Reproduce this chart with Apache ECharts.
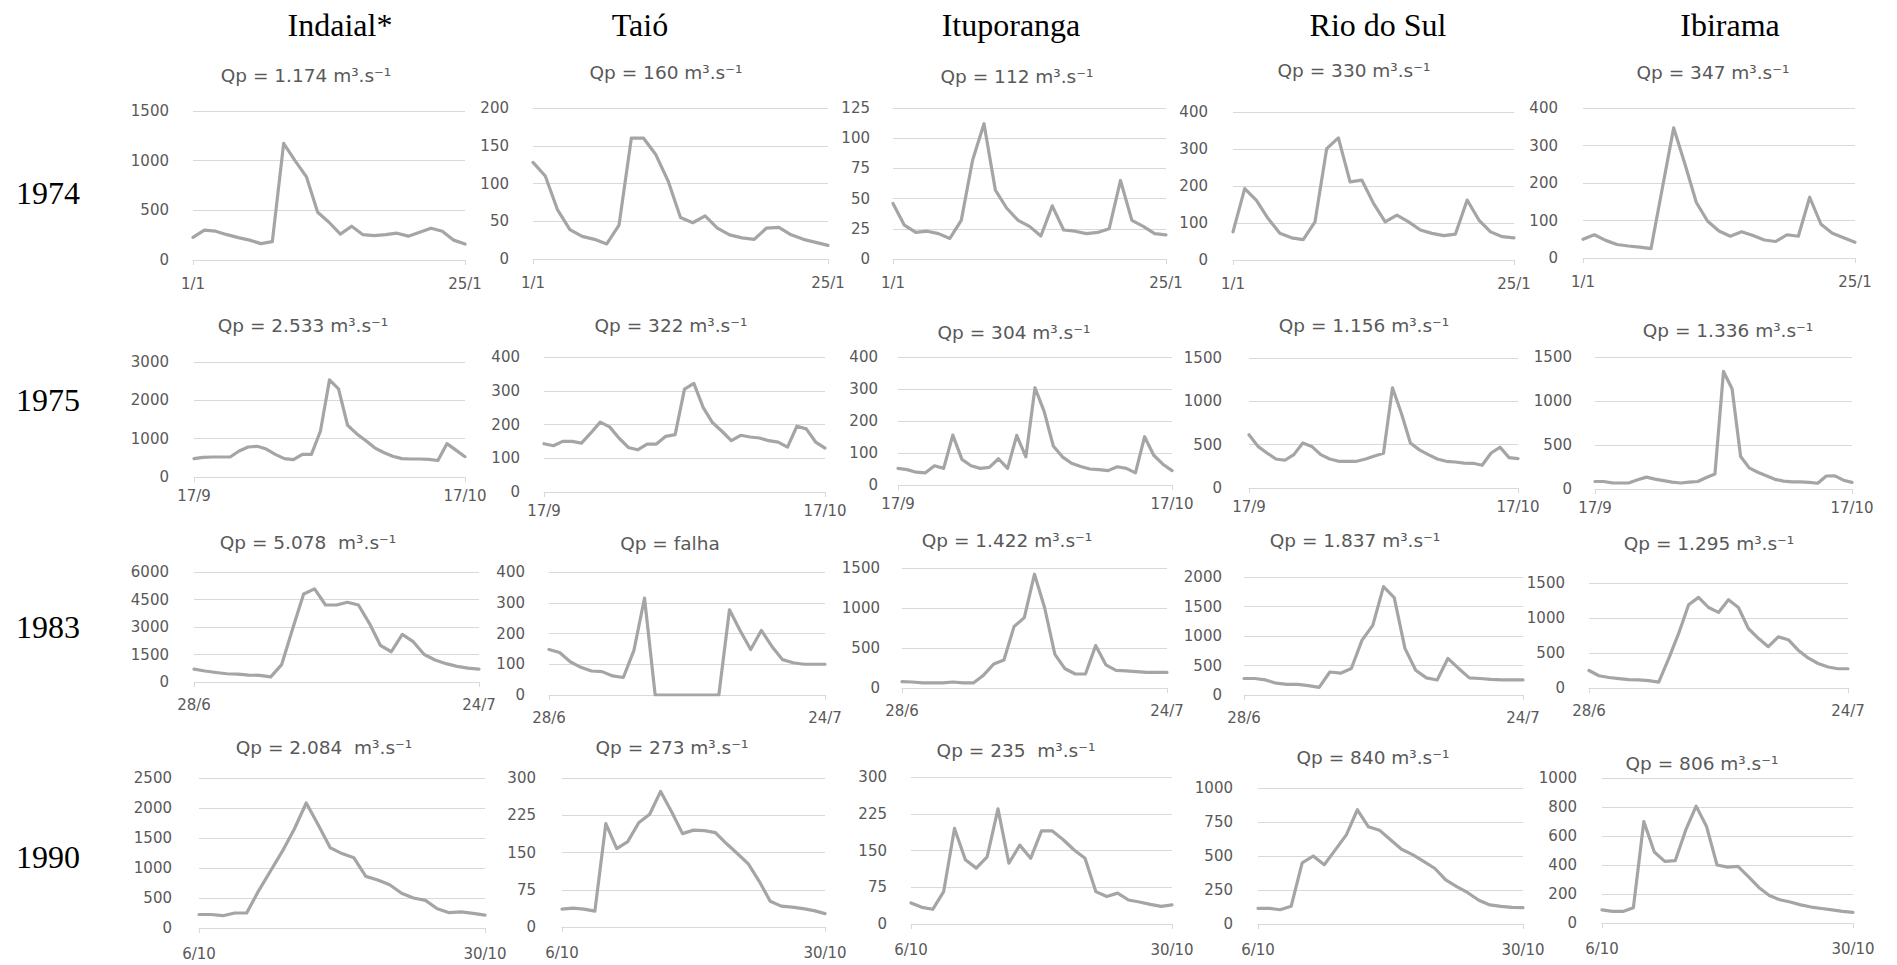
<!DOCTYPE html>
<html>
<head>
<meta charset="utf-8">
<title>Hidrogramas de cheia</title>
<script src="https://cdn.jsdelivr.net/npm/echarts@6/dist/echarts.min.js"></script>
<style>
  html, body { margin: 0; padding: 0; background: #fff; }
  #main { width: 1897px; height: 965px; }
</style>
</head>
<body>
<div id="main"></div>
<script>
// ---- data -------------------------------------------------------------
const stations = ['Indaial*', 'Taió', 'Ituporanga', 'Rio do Sul', 'Ibirama'];
const years = ['1974', '1975', '1983', '1990'];
const startLabels = ['1/1', '17/9', '28/6', '6/10'];
const endLabels = ['25/1', '17/10', '24/7', '30/10'];

// peak discharge captions, one list per year (station order)
const qp1974 = ['Qp = 1.174 m³.s⁻¹', 'Qp = 160 m³.s⁻¹', 'Qp = 112 m³.s⁻¹', 'Qp = 330 m³.s⁻¹', 'Qp = 347 m³.s⁻¹'];
const qp1975 = ['Qp = 2.533 m³.s⁻¹', 'Qp = 322 m³.s⁻¹', 'Qp = 304 m³.s⁻¹', 'Qp = 1.156 m³.s⁻¹', 'Qp = 1.336 m³.s⁻¹'];
const qp1983 = ['Qp = 5.078  m³.s⁻¹', 'Qp = falha', 'Qp = 1.422 m³.s⁻¹', 'Qp = 1.837 m³.s⁻¹', 'Qp = 1.295 m³.s⁻¹'];
const qp1990 = ['Qp = 2.084  m³.s⁻¹', 'Qp = 273 m³.s⁻¹', 'Qp = 235  m³.s⁻¹', 'Qp = 840 m³.s⁻¹', 'Qp = 806 m³.s⁻¹'];

// y-axis ranges (max, step), station order
const yMax1974 = [1500, 200, 125, 400, 400];
const yStep1974 = [500, 50, 25, 100, 100];
const yMax1975 = [3000, 400, 400, 1500, 1500];
const yStep1975 = [1000, 100, 100, 500, 500];
const yMax1983 = [6000, 400, 1500, 2000, 1500];
const yStep1983 = [1500, 100, 500, 500, 500];
const yMax1990 = [2500, 300, 300, 1000, 1000];
const yStep1990 = [500, 75, 75, 250, 200];

// daily discharge (m³/s)
const indaial1974 = [228, 300, 290, 255, 225, 200, 165, 185, 1174, 1000, 840, 480, 380, 260, 340, 255, 245, 255, 270, 240, 280, 320, 290, 200, 160];
const taio1974 = [128, 110, 65, 39, 30, 26, 20, 45, 160, 160, 138, 103, 55, 48, 57, 41, 32, 28, 26, 41, 42, 32, 26, 22, 18];
const ituporanga1974 = [46, 28, 22, 23, 21, 17, 32, 82, 112, 57, 42, 32, 27, 19, 44, 24, 23, 21, 22, 25, 65, 32, 27, 21, 20];
const rioDoSul1974 = [76, 193, 161, 112, 72, 60, 55, 103, 301, 330, 211, 216, 153, 103, 121, 103, 81, 72, 66, 70, 162, 108, 76, 63, 60];
const ibirama1974 = [50, 62, 47, 36, 32, 29, 25, 186, 347, 250, 148, 98, 72, 58, 70, 60, 48, 44, 62, 58, 162, 90, 66, 54, 42];

const indaial1975 = [478, 513, 522, 522, 522, 678, 783, 800, 730, 591, 478, 452, 591, 591, 1200, 2533, 2300, 1350, 1130, 950, 760, 640, 540, 480, 470, 470, 460, 430, 870, 700, 530];
const taio1975 = [143, 137, 150, 150, 145, 175, 207, 193, 160, 132, 125, 142, 142, 165, 170, 305, 322, 250, 205, 180, 152, 168, 163, 160, 152, 148, 133, 195, 187, 148, 130];
const ituporanga1975 = [52, 48, 40, 38, 60, 52, 156, 80, 60, 52, 55, 82, 52, 155, 88, 304, 230, 122, 88, 68, 58, 50, 48, 45, 57, 52, 38, 151, 93, 65, 45];
const rioDoSul1975 = [615, 480, 404, 335, 320, 385, 519, 480, 385, 335, 308, 308, 308, 335, 370, 400, 1156, 860, 519, 440, 385, 335, 308, 300, 288, 285, 262, 404, 470, 350, 340];
const ibirama1975 = [85, 85, 70, 68, 70, 105, 135, 112, 95, 78, 68, 78, 85, 130, 170, 1336, 1140, 370, 240, 190, 150, 110, 90, 80, 80, 75, 65, 148, 150, 100, 75];

const indaial1983 = [700, 600, 520, 450, 430, 380, 360, 280, 950, 2900, 4800, 5078, 4200, 4200, 4350, 4200, 3200, 2000, 1650, 2600, 2200, 1500, 1200, 1000, 850, 760, 700];
const taio1983 = [148, 138, 108, 90, 78, 76, 62, 57, 145, 315, 0, 0, 0, 0, 0, 0, 0, 277, 210, 148, 210, 158, 115, 105, 100, 100, 100];
const ituporanga1983 = [80, 75, 65, 63, 63, 75, 63, 63, 160, 300, 350, 770, 880, 1422, 1000, 420, 240, 175, 175, 530, 290, 220, 215, 205, 195, 195, 195];
const rioDoSul1983 = [280, 280, 255, 200, 180, 180, 160, 130, 390, 370, 450, 930, 1180, 1837, 1650, 790, 420, 290, 255, 620, 450, 290, 280, 265, 255, 255, 255];
const ibirama1983 = [250, 175, 150, 135, 120, 115, 105, 85, 420, 780, 1190, 1295, 1150, 1080, 1260, 1150, 850, 710, 590, 730, 690, 540, 430, 350, 300, 275, 275];

const indaial1990 = [225, 225, 205, 250, 250, 620, 950, 1280, 1650, 2084, 1720, 1340, 1240, 1170, 860, 800, 720, 580, 500, 460, 320, 255, 270, 245, 215];
const taio1990 = [36, 38, 36, 32, 208, 158, 172, 210, 227, 273, 232, 188, 195, 194, 190, 168, 148, 127, 92, 52, 42, 40, 37, 33, 27];
const ituporanga1990 = [43, 34, 30, 66, 195, 131, 114, 137, 235, 124, 161, 134, 190, 190, 172, 151, 134, 66, 56, 63, 49, 45, 40, 36, 39];
const rioDoSul1990 = [115, 115, 105, 130, 450, 500, 436, 545, 655, 840, 715, 690, 620, 550, 510, 460, 410, 325, 275, 230, 175, 140, 130, 122, 120];
const ibirama1990 = [90, 80, 80, 105, 700, 490, 425, 430, 640, 806, 665, 400, 385, 390, 320, 245, 190, 160, 145, 125, 110, 100, 90, 80, 73];

// ---- layout (pixels) --------------------------------------------------
// per panel: [plotLeft, plotRight, plotTop, plotBottom, yLabelRightEdge]
const panelBoxes = [
  [[193, 465, 111, 260, 169], [533, 828, 108, 259, 509], [893, 1166, 108, 259, 870], [1233, 1514, 112, 260, 1208], [1583, 1855, 108, 258, 1558]],
  [[194, 465, 362, 477, 169], [544, 825, 357, 492, 520], [898, 1172, 357, 485, 878], [1249, 1518, 358, 488, 1222], [1595, 1852, 357, 489, 1572]],
  [[194, 479, 572, 682, 169], [549, 825, 572, 695, 525], [902, 1167, 568, 688, 880], [1244, 1523, 577, 695, 1222], [1589, 1848, 583, 688, 1565]],
  [[199, 485, 778, 928, 172], [562, 825, 778, 927, 536], [911, 1172, 777, 924, 887], [1258, 1523, 788, 924, 1233], [1602, 1853, 778, 923, 1577]]
];
// gap between the horizontal axis and its date labels, per year row
const dateLabelGap = [16, 11, 15, 18];
// caption centres [x, y]
const captionPos = [
  [[306, 75], [666, 72], [1017, 76], [1354, 70], [1713, 72]],
  [[303, 325], [671, 325], [1014, 332], [1364, 325], [1728, 330]],
  [[308, 542], [670, 543], [1007, 540], [1355, 540], [1709, 543]],
  [[324, 747], [672, 747], [1016, 750], [1373, 757], [1702, 763]]
];
const stationX = [340, 640, 1011, 1378, 1730];
const stationY = 25;
const yearX = 48;
const yearY = [193, 400, 627, 857];

// ---- assemble ---------------------------------------------------------
const flowRows = [
  [indaial1974, taio1974, ituporanga1974, rioDoSul1974, ibirama1974],
  [indaial1975, taio1975, ituporanga1975, rioDoSul1975, ibirama1975],
  [indaial1983, taio1983, ituporanga1983, rioDoSul1983, ibirama1983],
  [indaial1990, taio1990, ituporanga1990, rioDoSul1990, ibirama1990]
];
const qpRows = [qp1974, qp1975, qp1983, qp1990];
const yMaxRows = [yMax1974, yMax1975, yMax1983, yMax1990];
const yStepRows = [yStep1974, yStep1975, yStep1983, yStep1990];

const TICK_FONT = '"DejaVu Sans", sans-serif';
const SERIF = '"Liberation Serif", "Times New Roman", serif';
const TEXT_GREY = '#595959';
const GRID_GREY = '#d9d9d9';
const LINE_GREY = '#a5a5a5';

const grids = [], xAxes = [], yAxes = [], series = [], texts = [];
const onlyEnds = (i, v) => v !== '';

flowRows.forEach((row, r) => {
  row.forEach((values, c) => {
    const idx = grids.length;
    const [L, R, T, B, labelRight] = panelBoxes[r][c];
    const cats = values.map((_, i) => i === 0 ? startLabels[r] : (i === values.length - 1 ? endLabels[r] : ''));
    grids.push({ left: L, top: T, width: R - L, height: B - T, containLabel: false, outerBoundsMode: 'none' });
    xAxes.push({
      type: 'category', gridIndex: idx, data: cats, boundaryGap: false,
      axisLine: { lineStyle: { color: GRID_GREY, width: 1 } },
      axisTick: { show: true, interval: onlyEnds, length: 5, lineStyle: { color: GRID_GREY } },
      axisLabel: { interval: onlyEnds, margin: dateLabelGap[r], color: TEXT_GREY, fontSize: 15, fontFamily: TICK_FONT },
      splitLine: { show: false }
    });
    yAxes.push({
      type: 'value', gridIndex: idx, min: 0, max: yMaxRows[r][c], interval: yStepRows[r][c],
      axisLine: { show: false }, axisTick: { show: false },
      splitLine: { lineStyle: { color: GRID_GREY, width: 1 } },
      axisLabel: {
        margin: L - labelRight, color: TEXT_GREY, fontSize: 15, fontFamily: TICK_FONT,
        formatter: v => String(v)
      }
    });
    series.push({
      type: 'line', xAxisIndex: idx, yAxisIndex: idx, data: values,
      symbol: 'none', silent: true, animation: false,
      lineStyle: { color: LINE_GREY, width: 3.2, join: 'round', cap: 'round' }
    });
    const [cx, cy] = captionPos[r][c];
    texts.push({
      type: 'text', x: cx, y: cy, silent: true,
      style: { text: qpRows[r][c], fill: TEXT_GREY, font: '18.5px ' + TICK_FONT, align: 'center', verticalAlign: 'middle' }
    });
  });
});

stations.forEach((name, c) => {
  texts.push({
    type: 'text', x: stationX[c], y: stationY, silent: true,
    style: { text: name, fill: '#000', font: '32px ' + SERIF, align: 'center', verticalAlign: 'middle' }
  });
});
years.forEach((yr, r) => {
  texts.push({
    type: 'text', x: yearX, y: yearY[r], silent: true,
    style: { text: yr, fill: '#000', font: '32px ' + SERIF, align: 'center', verticalAlign: 'middle' }
  });
});

const chart = echarts.init(document.getElementById('main'), null, { renderer: 'svg' });
chart.setOption({
  animation: false,
  backgroundColor: '#fff',
  grid: grids,
  xAxis: xAxes,
  yAxis: yAxes,
  series: series,
  graphic: { elements: texts }
});
</script>
</body>
</html>
